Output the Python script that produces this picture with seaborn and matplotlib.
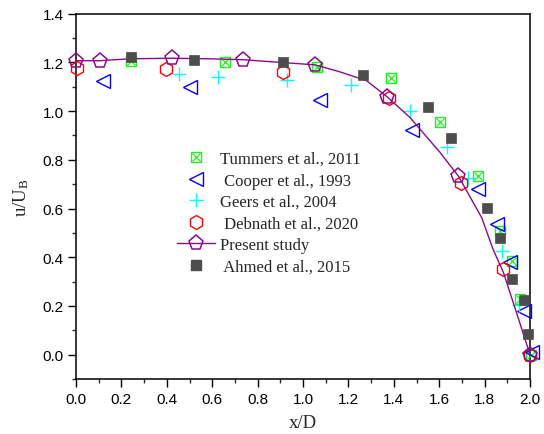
import matplotlib
matplotlib.use("Agg")
import matplotlib.pyplot as plt
from matplotlib.lines import Line2D
from matplotlib.legend_handler import HandlerTuple
from matplotlib.ticker import MultipleLocator
import seaborn as sns

# ---- data ----
tummers_x = [0.241, 0.656, 1.06, 1.386, 1.604, 1.769, 1.868, 1.919, 1.956, 2.005]
tummers_y = [1.207, 1.20, 1.18, 1.134, 0.954, 0.734, 0.508, 0.385, 0.23, 0.0]

cooper_x = [0.12, 0.502, 1.075, 1.479, 1.769, 1.853, 1.912, 1.974, 2.01]
cooper_y = [1.125, 1.097, 1.046, 0.922, 0.682, 0.536, 0.381, 0.179, 0.01]

geers_x = [0.455, 0.627, 0.928, 1.21, 1.471, 1.633, 1.728, 1.875, 1.95]
geers_y = [1.152, 1.141, 1.127, 1.107, 1.001, 0.853, 0.727, 0.426, 0.203]

debnath_x = [0.003, 0.396, 0.913, 1.38, 1.695, 1.88, 2.0]
debnath_y = [1.175, 1.173, 1.162, 1.052, 0.704, 0.353, 0.0]

present_x = [0.0, 0.106, 0.421, 0.737, 1.053, 1.369, 1.684, 2.0]
present_y = [1.207, 1.207, 1.217, 1.211, 1.19, 1.06, 0.734, 0.0]

line_x = [0.0, 0.106, 0.24, 0.421, 0.58, 0.737, 0.9, 1.053, 1.163, 1.28, 1.369,
          1.471, 1.604, 1.684, 1.787, 1.837, 1.883, 1.95, 2.0]
line_y = [1.207, 1.207, 1.215, 1.217, 1.215, 1.211, 1.20, 1.19, 1.161, 1.125, 1.06,
          0.974, 0.83, 0.734, 0.563, 0.433, 0.337, 0.145, 0.0]

ahmed_x = [0.241, 0.521, 0.91, 1.266, 1.552, 1.651, 1.809, 1.868, 1.919, 1.974, 1.99]
ahmed_y = [1.221, 1.211, 1.20, 1.148, 1.015, 0.888, 0.604, 0.481, 0.309, 0.224, 0.083]

labels = ["Tummers et al., 2011", " Cooper et al., 1993", "Geers et al., 2004",
          " Debnath et al., 2020", "Present study", " Ahmed et al., 2015"]
xticks = [0.0, 0.2, 0.4, 0.6, 0.8, 1.0, 1.2, 1.4, 1.6, 1.8, 2.0]
yticks = [0.0, 0.2, 0.4, 0.6, 0.8, 1.0, 1.2, 1.4]

# ---- style ----
sns.set_style("ticks")
plt.rcParams["font.family"] = ["Liberation Sans", "DejaVu Sans"]
plt.rcParams["mathtext.fontset"] = "custom"
plt.rcParams["mathtext.rm"] = "Liberation Serif"
plt.rcParams["mathtext.it"] = "Liberation Serif:italic"

c_tum = "#22ee22"
c_coo = "#0000ff"
c_gee = "#00ffff"
c_deb = "#ff0000"
c_pre = "#8b0a8b"
c_ahm = "#4d4d4d"

fig = plt.figure(figsize=(5.44, 4.35), dpi=100)
ax = fig.add_axes([76 / 544, 1 - 380 / 435, 454 / 544, 365.3 / 435])

common = dict(ax=ax, linestyle="", sort=False, clip_on=False, legend=False)

sns.lineplot(x=tummers_x, y=tummers_y, marker="s", markersize=7,
             markerfacecolor="none", markeredgecolor=c_tum, markeredgewidth=1.0,
             color=c_tum, zorder=3, **common)
sns.lineplot(x=tummers_x, y=tummers_y, marker="x", markersize=6,
             markeredgecolor=c_tum, markeredgewidth=0.9, color=c_tum, zorder=3, **common)
sns.lineplot(x=cooper_x, y=cooper_y, marker="<", markersize=10.5,
             markerfacecolor="none", markeredgecolor=c_coo, markeredgewidth=1.0,
             color=c_coo, zorder=3, **common)
sns.lineplot(x=geers_x, y=geers_y, marker="+", markersize=10,
             markeredgecolor=c_gee, markeredgewidth=1.0, color=c_gee, zorder=3, **common)
sns.lineplot(x=debnath_x, y=debnath_y, marker="h", markersize=10,
             markerfacecolor="none", markeredgecolor=c_deb, markeredgewidth=1.0,
             color=c_deb, zorder=3, **common)
sns.lineplot(x=line_x, y=line_y, ax=ax, color=c_pre, linewidth=1.0, sort=False,
             legend=False, zorder=4, clip_on=False)
sns.lineplot(x=present_x, y=present_y, marker="p", markersize=11,
             markerfacecolor="none", markeredgecolor=c_pre, markeredgewidth=1.1,
             color=c_pre, zorder=5, **common)
sns.lineplot(x=ahmed_x, y=ahmed_y, marker="s", markersize=7.5,
             markerfacecolor=c_ahm, markeredgecolor=c_ahm, markeredgewidth=0.5,
             color=c_ahm, zorder=6, **common)

ax.set_xlim(0, 2.0)
ax.set_ylim(-0.1, 1.4)
ax.set_xticks(xticks)
ax.set_yticks(yticks)
ax.set_xticklabels([f"{v:.1f}" for v in xticks])
ax.set_yticklabels([f"{v:.1f}" for v in yticks])
ax.xaxis.set_minor_locator(MultipleLocator(0.1))
ax.yaxis.set_minor_locator(MultipleLocator(0.1))
ax.tick_params(which="major", direction="out", length=5.5, width=1.0,
               labelsize=11, pad=3.5, color="black", labelcolor="black")
ax.tick_params(which="minor", direction="out", length=3, width=1.0)
ax.tick_params(top=False, right=False)
for s in ax.spines.values():
    s.set_visible(True)
    s.set_linewidth(1.1)
    s.set_color("black")

ax.set_xlabel("x/D", fontsize=13.5, family="Liberation Serif", labelpad=6)
ax.set_ylabel(r"u/U$_\mathrm{B}$", fontsize=13.5, family="Liberation Serif", labelpad=8)

h_tum = (Line2D([], [], linestyle="", marker="s", markersize=7, markerfacecolor="none",
                markeredgecolor=c_tum, markeredgewidth=1.0),
         Line2D([], [], linestyle="", marker="x", markersize=6, markeredgecolor=c_tum,
                markeredgewidth=0.9))
h_coo = Line2D([], [], linestyle="", marker="<", markersize=10.5, markerfacecolor="none",
               markeredgecolor=c_coo, markeredgewidth=1.0)
h_gee = Line2D([], [], linestyle="", marker="+", markersize=10, markeredgecolor=c_gee,
               markeredgewidth=1.0)
h_deb = Line2D([], [], linestyle="", marker="h", markersize=10, markerfacecolor="none",
               markeredgecolor=c_deb, markeredgewidth=1.0)
h_pre = Line2D([], [], color=c_pre, linewidth=1.0, marker="p", markersize=11,
               markerfacecolor="none", markeredgecolor=c_pre, markeredgewidth=1.1)
h_ahm = Line2D([], [], linestyle="", marker="s", markersize=7.5, markerfacecolor=c_ahm,
               markeredgecolor=c_ahm)

ax.legend([h_tum, h_coo, h_gee, h_deb, h_pre, h_ahm], labels,
          handler_map={tuple: HandlerTuple(ndivide=1, pad=0)},
          loc="upper left", bbox_to_anchor=((177 - 76) / 454, (380 - 152) / 365.3),
          borderaxespad=0, borderpad=0, frameon=False, numpoints=1,
          handlelength=2.3, handletextpad=0.3, labelspacing=0.33,
          prop={"family": "Liberation Serif", "size": 12})

fig.savefig("out.png", dpi=100)
